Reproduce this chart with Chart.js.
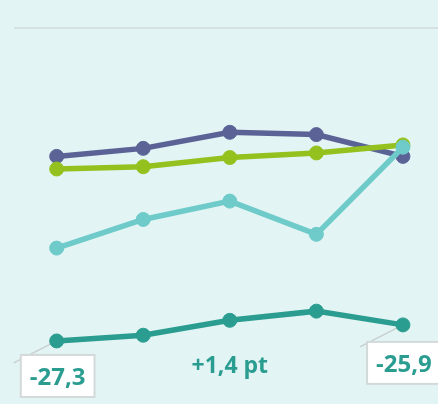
<!DOCTYPE html>
<html>
<head>
<meta charset="utf-8">
<script src="https://cdn.jsdelivr.net/npm/chart.js@4"></script>
<style>
  body { margin: 0; background: #e2f4f4; }
  #wrap { width: 438px; height: 404px; position: relative; }
</style>
</head>
<body>
<div id="wrap"><canvas id="chart"></canvas></div>
<script>
// Dữ liệu
const periods = [0, 1, 2, 3, 4];
const seriesBlue = [-11.2, -10.5, -9.1, -9.3, -11.2];
const seriesGreen = [-12.3, -12.1, -11.3, -10.9, -10.2];
const seriesLight = [-19.2, -16.7, -15.1, -18.0, -10.4];
const seriesDark = [-27.3, -26.8, -25.5, -24.7, -25.9];
const startLabel = '-27,3';
const endLabel = '-25,9';
const deltaLabel = '+1,4 pt';

const DARK = '#2a9d90';

const toPoints = arr => arr.map((v, i) => ({ x: periods[i], y: v }));

const makeSet = (data, color) => ({
    data: toPoints(data),
    borderColor: color,
    backgroundColor: color,
    borderWidth: 5.5,
    pointRadius: 7,
    pointBorderWidth: 1,
    pointHoverRadius: 7,
    tension: 0,
    clip: false
});

// Nhãn đầu / cuối cho đường xanh đậm
const labelPlugin = {
    id: 'labels',
    beforeDatasetsDraw(chart) {
        const { ctx, scales: { x, y } } = chart;
        const first = periods[0], last = periods[periods.length - 1];
        const pts = [
            [x.getPixelForValue(first), y.getPixelForValue(seriesDark[0])],
            [x.getPixelForValue(last), y.getPixelForValue(seriesDark[seriesDark.length - 1])]
        ];
        ctx.save();
        ctx.strokeStyle = '#c9cfcf';
        ctx.lineWidth = 1.5;
        pts.forEach(([px, py]) => {
            ctx.beginPath();
            ctx.moveTo(px, py);
            ctx.lineTo(px - 43, py + 22);
            ctx.stroke();
        });
        ctx.restore();
    },
    afterDatasetsDraw(chart) {
        const { ctx, scales: { x, y } } = chart;
        const first = periods[0], last = periods[periods.length - 1];
        const p1 = [x.getPixelForValue(first), y.getPixelForValue(seriesDark[0])];
        const p2 = [x.getPixelForValue(last), y.getPixelForValue(seriesDark[seriesDark.length - 1])];

        ctx.save();
        ctx.font = 'bold 24px "Open Sans"';
        ctx.textAlign = 'center';
        ctx.textBaseline = 'middle';

        const box = (cx, cy, text) => {
            const w = ctx.measureText(text).width + 18;
            const h = 42;
            ctx.fillStyle = '#ffffff';
            ctx.fillRect(cx - w / 2, cy - h / 2, w, h);
            ctx.strokeStyle = '#d3d9d9';
            ctx.lineWidth = 2;
            ctx.strokeRect(cx - w / 2, cy - h / 2, w, h);
            ctx.fillStyle = DARK;
            ctx.fillText(text, cx, cy + 2);
        };
        box(p1[0] + 1, p1[1] + 35, startLabel);
        box(p2[0] + 1, p2[1] + 38, endLabel);

        ctx.fillStyle = DARK;
        ctx.font = 'bold 23px "Open Sans"';
        ctx.fillText(deltaLabel, (p1[0] + p2[0]) / 2, 366);
        ctx.restore();
    }
};

new Chart(document.getElementById('chart'), {
    type: 'line',
    data: {
        datasets: [
            makeSet(seriesLight, '#6fcaca'),
            makeSet(seriesGreen, '#95c11f'),
            makeSet(seriesBlue, '#5b6396'),
            makeSet(seriesDark, DARK)
        ]
    },
    options: {
        responsive: true,
        maintainAspectRatio: false,
        animation: false,
        layout: { autoPadding: false, padding: { left: 14, top: 28, right: 0, bottom: 0 } },
        plugins: { legend: { display: false }, tooltip: { enabled: false } },
        scales: {
            x: { type: 'linear', min: -0.493, max: 4.405, display: false },
            y: {
                min: -32.8,
                max: 0,
                afterBuildTicks: axis => { axis.ticks = [{ value: 0 }]; },
                ticks: { display: false },
                border: { display: false },
                grid: { color: '#d6e2e2', lineWidth: 2, drawTicks: false }
            }
        }
    },
    plugins: [labelPlugin]
});
</script>
</body>
</html>
